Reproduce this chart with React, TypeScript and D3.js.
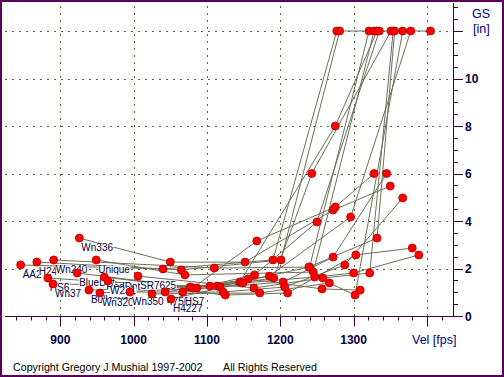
import React, { useEffect, useRef } from 'react';
import * as d3 from 'd3';

const seriesNames = ['Wn336', 'AA2', 'H24', 'Wn240', 'Unique', 'BlueDot', 'SR7625', 'RedDot', 'Wn37', 'HS6', 'Bullseye', 'Wn320', 'W231', 'Wn350', '4756', 'HS7', 'H4227', ''];
const seriesVel = [
  [926, 1050, 1152, 1272, 1350],
  [846, 1040, 1190, 1277, 1405],
  [868, 1065, 1201, 1281],
  [891, 1110, 1240, 1321],
  [949, 1070, 1245, 1328],
  [923, 1077, 1145, 1275, 1332],
  [1006, 1164, 1258, 1322, 1354],
  [960, 1081, 1168, 1275, 1328],
  [890, 1104, 1185, 1296, 1378],
  [883, 1086, 1165, 1250, 1335],
  [939, 1114, 1191, 1243, 1351],
  [954, 1118, 1204, 1272, 1345],
  [965, 1125, 1210, 1303, 1380],
  [995, 1122, 1206, 1288, 1367],
  [1043, 1156, 1257, 1309],
  [1067, 1146, 1239, 1332, 1356],
  [1051, 1149, 1247, 1300, 1389],
  [1025, 1172, 1267, 1302, 1367],
];
const seriesGs = [
  [3.28, 2.27, 2.27, 4.46, 5.47],
  [2.15, 1.98, 2.36, 12, 12],
  [2.27, 1.94, 2.36, 12],
  [2.36, 2.02, 2.06, 12],
  [2.36, 1.73, 1.85, 12],
  [1.81, 1.22, 1.43, 8.0, 12],
  [1.68, 1.18, 1.6, 1.81, 12],
  [1.64, 1.18, 3.16, 4.59, 6.0],
  [1.35, 1.26, 1.68, 4.17, 12],
  [1.6, 1.18, 1.73, 3.96, 12],
  [1.09, 1.26, 1.6, 6.0, 12],
  [0.97, 1.22, 1.43, 2.48, 6.0],
  [1.47, 0.88, 0.97, 2.57, 2.86],
  [1.01, 1.01, 1.22, 2.15, 4.97],
  [1.01, 1.56, 1.14, 1.09],
  [1.01, 1.43, 2.06, 3.28, 12],
  [0.72, 1.39, 1.64, 1.81, 2.57],
  [0.93, 0.97, 1.39, 0.88, 12],
];
const velTicks = [900, 1000, 1100, 1200, 1300];
const velGrid = [900, 1000, 1100, 1200, 1300, 1400];
const gsTicks = [0, 2, 4, 6, 8, 10];
const gsGrid = [2, 4, 6, 8, 10, 12];

export default function App() {
  const ref = useRef<SVGSVGElement>(null);
  useEffect(() => {
    const svg = d3.select(ref.current);
    svg.selectAll('*').remove();
    const x = d3.scaleLinear().domain([900, 1300]).range([60.3, 353.6]);
    const y = d3.scaleLinear().domain([0, 12]).range([316, 31]);
    const left = 5, right = 453, bottom = 316.5, top = 3;
    const axisCol = '#400040';
    const gridCol = '#60603c';
    const textCol = '#000040';

    svg.append('rect').attr('x', 0).attr('y', 0).attr('width', 504).attr('height', 377).attr('fill', '#fff');
    svg.append('rect').attr('x', 1).attr('y', 1).attr('width', 502).attr('height', 375)
      .attr('fill', 'none').attr('stroke', '#5a005a').attr('stroke-width', 2);

    // grid
    const g = svg.append('g');
    gsGrid.forEach((v) => {
      g.append('line').attr('x1', left).attr('x2', right).attr('y1', Math.round(y(v)) + 0.5).attr('y2', Math.round(y(v)) + 0.5)
        .attr('stroke', gridCol).attr('stroke-dasharray', '2,5');
    });
    velGrid.forEach((v) => {
      g.append('line').attr('x1', Math.round(x(v)) + 0.5).attr('x2', Math.round(x(v)) + 0.5).attr('y1', 6).attr('y2', bottom)
        .attr('stroke', gridCol).attr('stroke-dasharray', '2,5');
    });

    // axes
    svg.append('line').attr('x1', left).attr('x2', right).attr('y1', bottom).attr('y2', bottom).attr('stroke', axisCol);
    svg.append('line').attr('x1', right + 0.5).attr('x2', right + 0.5).attr('y1', top).attr('y2', bottom).attr('stroke', axisCol);
    for (let v = 840; v <= 1420; v += 20) {
      const major = v % 100 === 0;
      const px = Math.round(x(v)) + 0.5;
      svg.append('line').attr('x1', px).attr('x2', px).attr('y1', bottom).attr('y2', bottom + (major ? 10 : 4)).attr('stroke', axisCol);
    }
    for (let v = 0; v <= 13; v += 0.5) {
      const major = v % 2 === 0;
      const py = Math.round(y(v)) + 0.5;
      svg.append('line').attr('x1', right).attr('x2', right + (major ? 10 : 5)).attr('y1', py).attr('y2', py).attr('stroke', axisCol);
    }
    velTicks.forEach((v) => {
      svg.append('text').attr('x', x(v)).attr('y', 344).attr('text-anchor', 'middle')
        .attr('font-family', 'Liberation Sans, Arial, sans-serif').attr('font-size', 12).attr('font-weight', 'bold')
        .attr('fill', textCol).text(String(v));
    });
    gsTicks.forEach((v) => {
      svg.append('text').attr('x', 465).attr('y', y(v) + 4.5)
        .attr('font-family', 'Liberation Sans, Arial, sans-serif').attr('font-size', 12).attr('font-weight', 'bold')
        .attr('fill', textCol).text(String(v));
    });
    const titleFont = 'Liberation Sans, Arial, sans-serif';
    svg.append('text').attr('x', 472).attr('y', 18).attr('font-family', titleFont).attr('font-size', 12.5).attr('fill', '#000080').text('GS');
    svg.append('text').attr('x', 473).attr('y', 33).attr('font-family', titleFont).attr('font-size', 12.5).attr('fill', '#000080').text('[in]');
    svg.append('text').attr('x', 412).attr('y', 344).attr('font-family', titleFont).attr('font-size', 12.5).attr('fill', '#000080').text('Vel [fps]');
    svg.append('text').attr('x', 13).attr('y', 371).attr('font-family', titleFont).attr('font-size', 10.7).attr('fill', '#000').text('Copyright Gregory J  Mushial 1997-2002');
    svg.append('text').attr('x', 223).attr('y', 371).attr('font-family', titleFont).attr('font-size', 10.7).attr('fill', '#000').text('All Rights Reserved');

    // lines
    const line = d3.line<[number, number]>().x((d) => x(d[0])).y((d) => y(d[1]));
    const series = seriesNames.map((name, i) => ({
      name,
      pts: seriesVel[i].map((v, j) => [v, seriesGs[i][j]] as [number, number]),
    }));
    series.forEach((s) => {
      svg.append('path').attr('d', line(s.pts)).attr('fill', 'none').attr('stroke', '#6e6e58').attr('stroke-width', 1);
    });
    // labels
    series.filter((s) => s.name).forEach((s) => {
      const p = s.pts[0];
      const gl = svg.append('g');
      const bg = gl.append('rect').attr('fill', '#fff');
      const t = gl.append('text').attr('x', x(p[0]) + 2).attr('y', y(p[1]) + 13)
        .attr('font-family', titleFont).attr('font-size', 10).attr('fill', textCol).text(s.name);
      const bb = (t.node() as SVGTextElement).getBBox();
      bg.attr('x', bb.x).attr('y', bb.y + 2).attr('width', bb.width).attr('height', bb.height - 4);
    });
    // points
    series.forEach((s) => {
      svg.append('g').selectAll('circle').data(s.pts).join('circle')
        .attr('cx', (d) => x(d[0])).attr('cy', (d) => y(d[1])).attr('r', 4)
        .attr('fill', '#ff0000').attr('stroke', '#b00000').attr('stroke-width', 0.8);
    });
  }, []);
  return (
    <div style={{ position: 'fixed', left: 0, top: 0 }}>
      <svg ref={ref} width={504} height={377} style={{ display: 'block' }} />
    </div>
  );
}
